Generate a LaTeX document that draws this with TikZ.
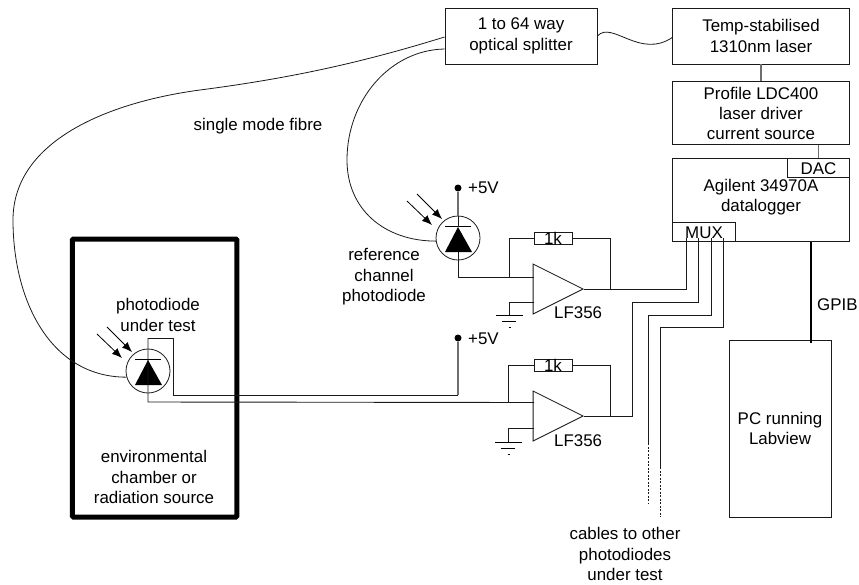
\documentclass[tikz,border=0pt]{standalone}
\usepackage{fontspec}
\setmainfont{Liberation Sans}
\usetikzlibrary{shapes.geometric, arrows.meta, positioning, calc}
\definecolor{wire}{HTML}{1A1A1A}
\definecolor{rail}{HTML}{6E6E6E}

\begin{document}
\begin{tikzpicture}[x=1pt, y=-1pt, >={Latex[length=10pt,width=8pt]}, font=\fontsize{16.9}{20.4}\selectfont]
    \tikzstyle{unit} = [rectangle, draw=wire, inner sep=0pt, text centered, align=center, line width=0.9pt]
    \tikzstyle{link} = [draw=wire, line width=0.9pt]
    \tikzstyle{feed} = [draw=rail, line width=1.4pt]
    \tikzstyle{fibre} = [draw=wire, line width=0.8pt]
    \tikzstyle{diode} = [circle, draw=wire, line width=0.8pt, minimum size=44pt, inner sep=0pt]
    \tikzstyle{amp} = [isosceles triangle, isosceles triangle apex angle=53.13, isosceles triangle stretches, draw=wire, line width=0.8pt, minimum width=50pt, minimum height=50pt, inner sep=0pt, anchor=apex]
    \tikzstyle{res} = [rectangle, draw=wire, line width=0.8pt, minimum width=38pt, minimum height=12pt, inner sep=0pt]
    \tikzstyle{dot} = [circle, fill=black, minimum size=7pt, inner sep=0pt]
    \tikzstyle{label} = [inner sep=0pt, align=center]
    \useasboundingbox (0,0) rectangle (859,584);

    \node [unit, minimum width=152pt, minimum height=56pt] (splitter) at (521,36) {1 to 64 way\\optical splitter};
    \node [unit, minimum width=177pt, minimum height=56pt] (laser) at (761,36) {Temp-stabilised\\1310nm laser};
    \node [unit, minimum width=177pt, minimum height=63pt, below=17pt of laser] (driver) {Profile LDC400\\laser driver\\current source};
    \node [unit, minimum width=177pt, minimum height=83pt, below=13pt of driver] (logger) {};
    \node [label] (loggertext) at (761,197) {Agilent 34970A\\datalogger};
    \node [unit, minimum width=62pt, minimum height=19pt, anchor=north east] (dac) at (logger.north east) {DAC};
    \node [unit, minimum width=63pt, minimum height=19pt, anchor=south west] (mux) at (logger.south west) {MUX};
    \node [unit, minimum width=102pt, minimum height=177pt] (pc) at (780,428.5) {PC running\\Labview};
    \node [rectangle, draw=black, line width=5pt, rounded corners=1pt, minimum width=164.5pt, minimum height=278pt] (chamber) at (154.7,378) {};

    \node [diode] (pd1) at (458,238) {};
    \node [diode] (pd2) at (148,371) {};
    \node [dot] (vcc1) at (458,188) {};
    \node [dot] (vcc2) at (458,338) {};
    \node [amp] (amp1) at (584,289) {};
    \node [amp] (amp2) at (584,416) {};
    \node [res] (res1) at (553,238.5) {};
    \node [label] at (res1) {1k};
    \node [res] (res2) at (553,365.5) {};
    \node [label] at (res2) {1k};

    \node [label, anchor=west] (plus1) at (468,188) {+5V};
    \node [label, anchor=west] (plus2) at (468,339) {+5V};
    \node [label, anchor=west] (lf1) at (554,313) {LF356};
    \node [label, anchor=west] (lf2) at (554,441) {LF356};
    \node [label] (fibretext) at (258,126) {single mode fibre};
    \node [label] (reftext) at (384,277) {reference\\channel\\photodiode};
    \node [label] (testtext) at (158,315) {photodiode\\under test};
    \node [label] (envtext) at (154,477) {environmental\\chamber or\\radiation source};
    \node [label, anchor=west] (gpib) at (817,305) {GPIB};
    \node [label] (cables) at (625,554) {cables to other\\photodiodes\\under test};

    % supply and laser
    \path [link, line width=1.3pt, draw=rail] (laser.south) -- (driver.north);
    \path [link, line width=1.3pt, draw=rail] (driver.south -| dac.south) -- (dac.north);
    \path [draw=black, line width=2.4pt] (logger.south -| pc.north) ++(31,0) -- ++(0,101);

    % fibres
    \path [fibre] (splitter.east) .. controls (612,20) and (640,60) .. (673,37);
    \coordinate (tapA) at ($(splitter.west)+(0,1)$);
    \coordinate (tapB) at ($(splitter.west)+(0,13)$);
    \path [fibre] (tapA) .. controls (370,60) and (300,77) .. (200,90) .. controls (110,102) and (13,140) .. (13,220) .. controls (13,300) and (50,377) .. (pd2.196);
    \path [fibre] (tapB) .. controls (390,50) and (347,100) .. (347,160) .. controls (347,210) and (385,241) .. (pd1.188);

    % diode glyphs
    \foreach \pd in {pd1,pd2} {
        \fill ($(\pd)+(0,-11)$) -- ($(\pd)+(14,14)$) -- ($(\pd)+(-13,14)$) -- cycle;
        \draw [line width=0.8pt] ($(\pd)+(-13,-12)$) -- ($(\pd)+(13,-12)$);
        \draw [->, line width=0.8pt] ($(\pd)+(-51,-37)$) -- ($(\pd)+(-26,-13)$);
        \draw [->, line width=0.8pt] ($(\pd)+(-41,-44)$) -- ($(\pd)+(-16,-19)$);
    }

    % first amplifier
    \path [feed] (vcc1) -- (pd1.north);
    \path [link] (pd1.north) -- ($(pd1)+(0,-11)$);
    \path [link] (pd1.south) -- ($(pd1)+(0,14)$);
    \path [link] (pd1.south) |- (534,277);
    \path [link] (509,277) |- (res1.west);
    \path [link] (res1.east) -| (610,289);
    \path [link] (amp1.apex) -- (686,289) -- (686,238);
    \path [link] (534,302) -| (509,315);
    \draw [line width=0.9pt] (496,315) -- (523,315);
    \draw [line width=0.9pt] (502,321) -- (516,321);
    \draw [line width=0.9pt] (508.5,327) -- (510.5,327);

    % second amplifier
    \coordinate (top2) at ($(pd2)+(0,-33)$);
    \path [link] (top2) -- ($(pd2)+(0,31)$) -- (534,402.5);
    \path [link] (top2) -- (173,338) -- (173,395) -- (458,395);
    \path [feed] (458,395) -- (vcc2);
    \path [link] (508,402.5) |- (res2.west);
    \path [link] (res2.east) -| (610,416);
    \path [link] (amp2.apex) -- (632,416) -- (632,302) -- (698,302) -- (698,238);
    \path [link] (534,428) -| (508,442);
    \draw [line width=0.9pt] (495,442) -- (522,442);
    \draw [line width=0.9pt] (501,448) -- (515,448);
    \draw [line width=0.9pt] (507.5,454) -- (509.5,454);

    % spare channels
    \path [link] (711,238) -- (711,315) -- (648,315) -- (648,443);
    \path [link, dash pattern=on 2pt off 1.5pt] (648,443) -- (648,503);
    \path [link] (723,238) -- (723,327) -- (660,327) -- (660,467);
    \path [link, dash pattern=on 2pt off 1.5pt] (660,467) -- (660,517);
\end{tikzpicture}
\end{document}
